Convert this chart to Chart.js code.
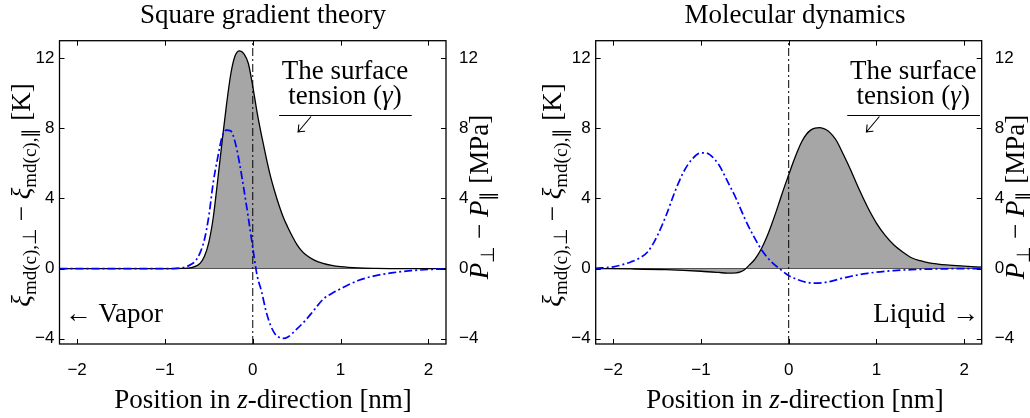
<!DOCTYPE html>
<html>
<head>
<meta charset="utf-8">
<script src="https://cdn.jsdelivr.net/npm/chart.js@4.4.1/dist/chart.umd.min.js"></script>
<style>
  html, body { margin: 0; padding: 0; background: #fff; }
  #wrap { position: relative; width: 1030px; height: 418px; overflow: hidden; }
  canvas { position: absolute; top: 0; }
</style>
</head>
<body>
<div id="wrap">
  <canvas id="sgt" width="536" height="418" style="left:0"></canvas>
  <canvas id="md" width="494" height="418" style="left:536px"></canvas>
</div>
<script>
// ---- data ----
const xTicks = [-2, -1, 0, 1, 2];
const yTicks = [-4, 0, 4, 8, 12];
const xRange = [-2.2, 2.2];
const yRange = [-4.3, 13];
const interfaceZ = 0;

// square gradient theory: temperature difference [K]
const sgtZ = [-2.2, -1.5, -1.0, -0.8, -0.7, -0.6, -0.55, -0.5, -0.45, -0.4, -0.35, -0.3, -0.25, -0.2,
  -0.15, -0.1, -0.05, 0, 0.05, 0.1, 0.15, 0.2, 0.25, 0.3, 0.35, 0.4, 0.45, 0.5, 0.55, 0.6, 0.7,
  0.8, 0.9, 1.0, 1.2, 1.4, 1.7, 2.2];
const sgtTemp = [0, 0, 0, 0.01, 0.05, 0.3, 0.7, 1.5, 2.9, 5.0, 7.2, 9.3, 11.1, 12.15,
  12.42, 12.25, 11.7, 10.4, 8.9, 7.6, 6.4, 5.3, 4.4, 3.6, 2.9, 2.35, 1.85, 1.4, 1.05, 0.8, 0.48,
  0.3, 0.18, 0.11, 0.04, 0.015, 0, 0];
// square gradient theory: pressure difference [MPa]
const sgtPressZ = [-2.2, -1.5, -1.0, -0.8, -0.75, -0.7, -0.65, -0.6, -0.55, -0.5, -0.45, -0.4, -0.35,
  -0.3, -0.25, -0.2, -0.15, -0.1, -0.05, 0, 0.05, 0.1, 0.15, 0.2, 0.25, 0.3, 0.35, 0.4, 0.5, 0.6,
  0.7, 0.8, 0.9, 1.0, 1.2, 1.4, 1.6, 1.8, 2.0, 2.2];
const sgtPress = [0, 0, 0, 0.05, 0.12, 0.25, 0.45, 0.9, 1.66, 3.0, 4.9, 6.3, 7.5,
  7.9, 7.85, 7.2, 6.0, 4.5, 2.9, 1.2, -0.4, -1.3, -2.4, -3.2, -3.7, -3.92, -3.98, -3.9, -3.45, -2.95,
  -2.35, -1.75, -1.42, -1.15, -0.68, -0.4, -0.23, -0.12, -0.05, -0.02];

// molecular dynamics: temperature difference [K]
const mdZ = [-2.2, -1.8, -1.4, -1.0, -0.8, -0.7, -0.6, -0.55, -0.5, -0.45, -0.4, -0.35, -0.3, -0.25,
  -0.2, -0.15, -0.1, -0.05, 0, 0.05, 0.1, 0.15, 0.2, 0.25, 0.3, 0.35, 0.4, 0.45, 0.5, 0.55, 0.6,
  0.7, 0.8, 0.9, 1.0, 1.1, 1.2, 1.3, 1.4, 1.5, 1.6, 1.7, 1.8, 2.0, 2.2];
const mdTemp = [0, -0.02, -0.06, -0.15, -0.22, -0.26, -0.24, -0.18, -0.05, 0.2, 0.45, 0.8, 1.25, 1.8,
  2.45, 3.15, 3.9, 4.65, 5.35, 6.05, 6.7, 7.25, 7.65, 7.9, 8.02, 8.04, 7.98, 7.85, 7.6, 7.25, 6.75,
  5.7, 4.55, 3.5, 2.6, 1.9, 1.35, 0.95, 0.62, 0.45, 0.33, 0.26, 0.21, 0.14, 0.08];
// molecular dynamics: pressure difference [MPa]
const mdPressZ = [-2.2, -2.0, -1.9, -1.8, -1.7, -1.6, -1.5, -1.4, -1.3, -1.2, -1.1, -1.0, -0.95, -0.9,
  -0.8, -0.7, -0.6, -0.5, -0.4, -0.3, -0.2, -0.1, 0, 0.1, 0.2, 0.3, 0.4, 0.5, 0.6, 0.7, 0.8, 0.9,
  1.0, 1.2, 1.4, 1.6, 1.8, 2.2];
const mdPress = [0.02, 0.1, 0.22, 0.38, 0.6, 1.0, 1.85, 3.0, 4.35, 5.5, 6.25, 6.6, 6.6, 6.5,
  5.95, 5.0, 4.0, 2.85, 1.85, 1.0, 0.4, -0.02, -0.4, -0.62, -0.78, -0.83, -0.8, -0.7, -0.56, -0.45,
  -0.35, -0.27, -0.2, -0.11, -0.06, -0.03, -0.01, 0];

const SERIF = "'Liberation Serif', 'Times New Roman', serif";
const SANS = "'Liberation Sans', Arial, Helvetica, sans-serif";
const font = (size, style) => `${style || 'normal'} ${size}px ${SERIF}`;

// draws a run of differently styled pieces on one baseline
function drawRich(ctx, parts, x, y, align) {
  let w = 0;
  parts.forEach(p => { ctx.font = p[1]; w += ctx.measureText(p[0]).width; });
  let cx = align === 'center' ? x - w / 2 : align === 'right' ? x - w : x;
  ctx.textAlign = 'left';
  ctx.textBaseline = 'alphabetic';
  parts.forEach(p => {
    ctx.font = p[1];
    ctx.fillText(p[0], cx, y + (p[2] || 0));
    cx += ctx.measureText(p[0]).width;
  });
}

const figurePlugin = {
  id: 'figure',
  afterDatasetsDraw(chart, args, opts) {
    const { ctx, chartArea: a, scales } = chart;
    ctx.save();
    ctx.strokeStyle = '#000';
    ctx.lineWidth = 1;
    ctx.beginPath();
    // inward ticks on all four sides
    xTicks.forEach(v => {
      const px = Math.round(scales.x.getPixelForValue(v)) + 0.5;
      ctx.moveTo(px, a.bottom); ctx.lineTo(px, a.bottom - 5);
      ctx.moveTo(px, a.top); ctx.lineTo(px, a.top + 5);
    });
    yTicks.forEach(v => {
      const py = Math.round(scales.y.getPixelForValue(v)) + 0.5;
      ctx.moveTo(a.left, py); ctx.lineTo(a.left + 5, py);
      ctx.moveTo(a.right, py); ctx.lineTo(a.right - 5, py);
    });
    ctx.stroke();
    ctx.lineWidth = 1.3;
    ctx.strokeRect(a.left, a.top, a.right - a.left, a.bottom - a.top);
    ctx.restore();
  },
  afterDraw(chart, args, opts) {
    const { ctx, scales } = chart;
    const X = v => scales.x.getPixelForValue(v);
    const Y = v => scales.y.getPixelForValue(v);
    ctx.save();
    ctx.fillStyle = '#000';

    // title and x label
    drawRich(ctx, [[opts.title, font(27)]], opts.textX, 23, 'center');
    drawRich(ctx, [['Position in ', font(27)], ['z', font(27, 'italic')], ['-direction [nm]', font(27)]],
      opts.textX, 408, 'center');

    // left axis label
    ctx.save();
    ctx.translate(opts.leftLabelX, 195);
    ctx.rotate(-Math.PI / 2);
    drawRich(ctx, [['ξ', font(27, 'italic')], ['md(c),⊥', font(19), 6], [' − ', font(27)],
      ['ξ', font(27, 'italic')], ['md(c),∥', font(19), 6], [' [K]', font(27)]], 0, 0, 'center');
    ctx.restore();

    // right axis label
    ctx.save();
    ctx.translate(opts.rightLabelX, 197);
    ctx.rotate(-Math.PI / 2);
    drawRich(ctx, [['P', font(27, 'italic')], ['⊥', font(19), 6], [' − ', font(27)],
      ['P', font(27, 'italic')], ['∥', font(19), 6], [' [MPa]', font(27)]], 0, 0, 'center');
    ctx.restore();

    // surface tension note
    const n = opts.note;
    drawRich(ctx, [['The surface', font(27)]], X(n.x), Y(10.8), 'center');
    drawRich(ctx, [['tension (', font(27)], ['γ', font(27, 'italic')], [')', font(27)]],
      X(n.x), Y(9.37), 'center');
    ctx.strokeStyle = '#000';
    ctx.lineWidth = 1;
    ctx.beginPath();
    const ly = Math.round(Y(8.78)) + 0.5;
    ctx.moveTo(X(n.from), ly);
    ctx.lineTo(X(n.to), ly);
    ctx.stroke();
    // small south-west arrow hanging from the rule
    const ax = X(n.arrowX);
    ctx.lineWidth = 1.1;
    ctx.beginPath();
    ctx.moveTo(ax + 6.5, ly + 1);
    ctx.lineTo(ax - 6.5, ly + 16.5);
    ctx.moveTo(ax - 5.8, ly + 9);
    ctx.quadraticCurveTo(ax - 6.2, ly + 14, ax - 6.5, ly + 16.5);
    ctx.quadraticCurveTo(ax - 3.5, ly + 16, ax + 0.5, ly + 15.8);
    ctx.stroke();

    // phase label
    const s = opts.side;
    drawRich(ctx, [[s.text, font(27)]], X(s.x), Y(-3.07), s.align);
    ctx.restore();
  }
};

function makePanel(id, z, temp, pz, press, cfg) {
  const pts = (xs, ys) => xs.map((x, i) => ({ x: x, y: ys[i] }));
  const tickText = v => (v < 0 ? '\u2212' + Math.abs(v) : String(v));
  const yScale = (pos, width) => ({
    type: 'linear', position: pos, min: yRange[0], max: yRange[1], bounds: 'data',
    afterBuildTicks: sc => { sc.ticks = yTicks.map(v => ({ value: v })); },
    afterFit: sc => { sc.width = width; },
    ticks: { font: { family: SANS, size: 17 }, color: '#000', padding: 5, callback: tickText },
    border: { display: false },
    grid: pos === 'left'
      ? { drawTicks: false, lineWidth: 1, color: c => (c.tick && c.tick.value === 0 ? '#000' : 'rgba(0,0,0,0)') }
      : { display: false }
  });

  return new Chart(document.getElementById(id), {
    type: 'line',
    data: {
      datasets: [
        {
          data: pts(pz, press), yAxisID: 'y2', borderColor: '#0000ff', borderWidth: 1.7,
          borderDash: [8, 3, 2, 3], pointRadius: 0, fill: false,
          cubicInterpolationMode: 'monotone', order: 1
        },
        {
          data: pts([interfaceZ, interfaceZ], yRange), yAxisID: 'y', borderColor: '#000',
          borderWidth: 1, borderDash: [8, 3, 2, 3], pointRadius: 0, fill: false, order: 2
        },
        {
          data: pts(z, temp), yAxisID: 'y', borderColor: '#000', borderWidth: 1.3,
          backgroundColor: '#a6a6a6', fill: { value: 0 }, pointRadius: 0,
          cubicInterpolationMode: 'monotone', order: 3
        }
      ]
    },
    options: {
      responsive: false,
      animation: false,
      devicePixelRatio: 1,
      layout: { padding: { top: 40.7, left: 0, right: 0, bottom: 0 } },
      scales: {
        x: {
          type: 'linear', min: xRange[0], max: xRange[1], bounds: 'data',
          afterBuildTicks: sc => { sc.ticks = xTicks.map(v => ({ value: v })); },
          afterFit: sc => { sc.height = 74; },
          ticks: { font: { family: SANS, size: 17 }, color: '#000', padding: 8, maxRotation: 0, autoSkip: false, callback: tickText },
          border: { display: false },
          grid: { display: false }
        },
        y: yScale('left', cfg.plotLeft),
        y2: yScale('right', cfg.canvasW - cfg.plotRight)
      },
      plugins: {
        legend: { display: false },
        tooltip: { enabled: false },
        figure: cfg.figure
      }
    },
    plugins: [figurePlugin]
  });
}

makePanel('sgt', sgtZ, sgtTemp, sgtPressZ, sgtPress, {
  canvasW: 536, plotLeft: 59.5, plotRight: 446,
  figure: {
    title: 'Square gradient theory', textX: 263, leftLabelX: 30, rightLabelX: 488,
    note: { x: 1.05, from: 0.3, to: 1.81, arrowX: 0.59 },
    side: { text: '← Vapor', x: -2.14, align: 'left' }
  }
});

makePanel('md', mdZ, mdTemp, mdPressZ, mdPress, {
  canvasW: 494, plotLeft: 59.7, plotRight: 445.7,
  figure: {
    title: 'Molecular dynamics', textX: 259, leftLabelX: 25, rightLabelX: 488,
    note: { x: 1.42, from: 0.667, to: 2.18, arrowX: 0.96 },
    side: { text: 'Liquid →', x: 2.17, align: 'right' }
  }
});
</script>
</body>
</html>
